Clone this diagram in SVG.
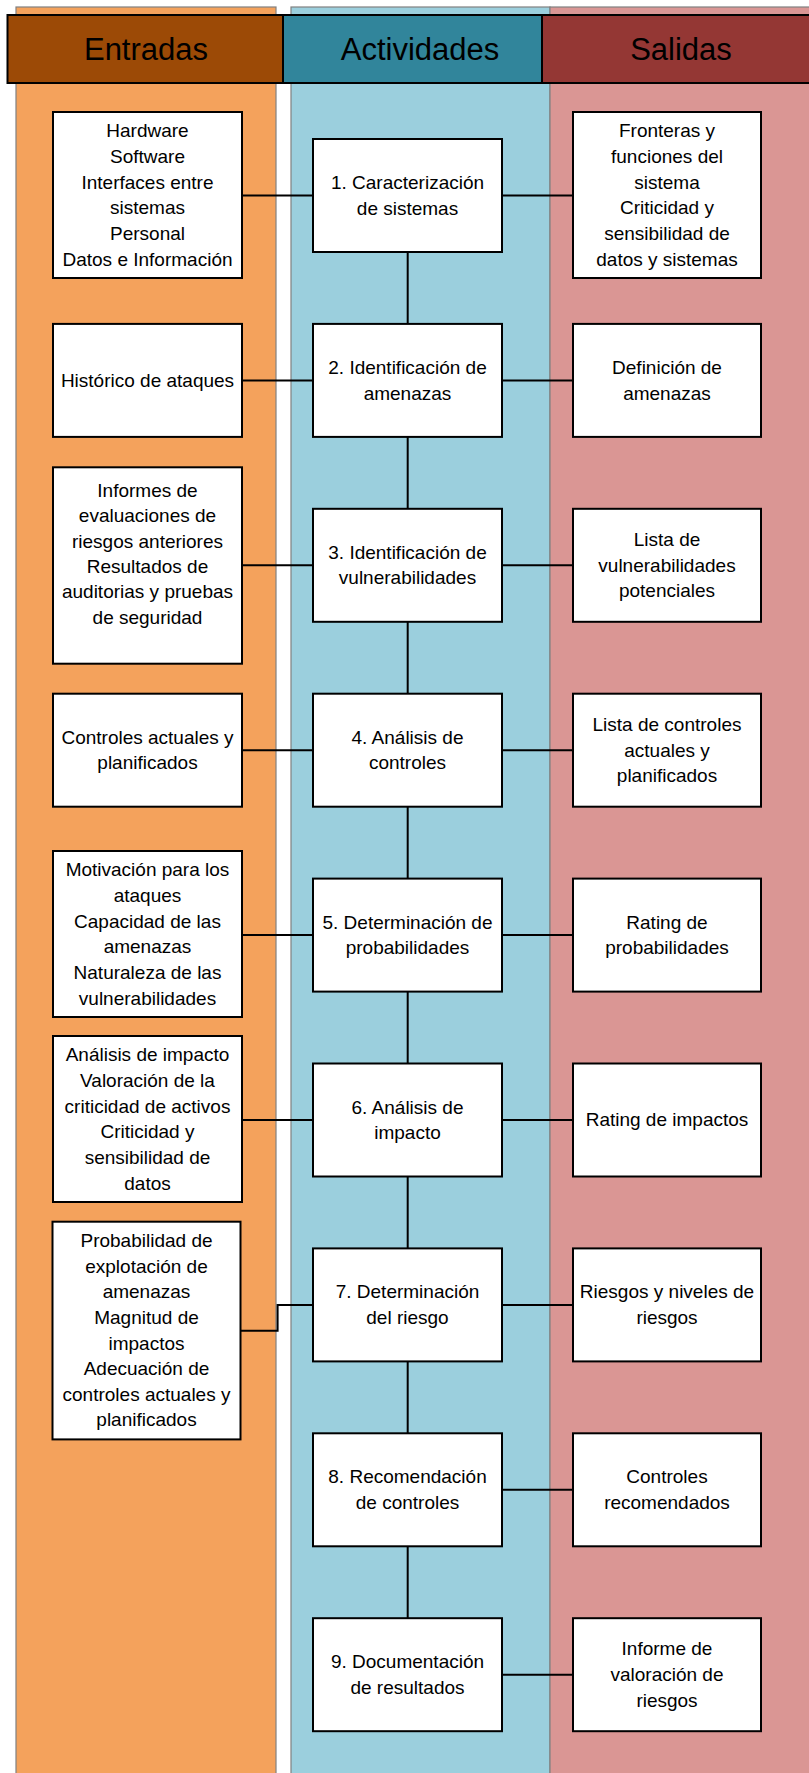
<svg xmlns="http://www.w3.org/2000/svg" width="809" height="1773" viewBox="0 0 809 1773">
<style>
.bg{stroke:#808080;stroke-width:1.2}
.hd{stroke:#000;stroke-width:2}
.ht{font-family:"Liberation Sans",Arial,sans-serif;font-size:31px;fill:#000;text-anchor:middle}
.box{fill:#fff;stroke:#000;stroke-width:2}
.t{font-family:"Liberation Sans",Arial,sans-serif;font-size:19px;fill:#000;text-anchor:middle}
.c{fill:none;stroke:#000;stroke-width:2}
</style>
<rect width="809" height="1773" fill="#fff"/>
<g id="columns">
<rect class="bg" x="16" y="7" width="260" height="1780" fill="#F4A25C"/>
<rect class="bg" x="291" y="7" width="259" height="1780" fill="#9BCFDD"/>
<rect class="bg" x="550" y="7" width="270" height="1780" fill="#DA9694"/>
</g>
<g id="headers">
<rect class="hd" x="7.5" y="15" width="275.5" height="68" fill="#9C4A06"/>
<rect class="hd" x="283" y="15" width="259" height="68" fill="#31859B"/>
<rect class="hd" x="542" y="15" width="275" height="68" fill="#943734"/>
<text class="ht" x="146" y="60">Entradas</text>
<text class="ht" x="420" y="60">Actividades</text>
<text class="ht" x="681" y="60">Salidas</text>
</g>
<g id="connectors">
<line class="c" x1="407.7" y1="252" x2="407.7" y2="1618"/>
<line class="c" x1="242" y1="195.5" x2="313" y2="195.5"/>
<line class="c" x1="502" y1="195.5" x2="573" y2="195.5"/>
<line class="c" x1="242" y1="380.4" x2="313" y2="380.4"/>
<line class="c" x1="502" y1="380.4" x2="573" y2="380.4"/>
<line class="c" x1="242" y1="565.3" x2="313" y2="565.3"/>
<line class="c" x1="502" y1="565.3" x2="573" y2="565.3"/>
<line class="c" x1="242" y1="750.2" x2="313" y2="750.2"/>
<line class="c" x1="502" y1="750.2" x2="573" y2="750.2"/>
<line class="c" x1="242" y1="935.1" x2="313" y2="935.1"/>
<line class="c" x1="502" y1="935.1" x2="573" y2="935.1"/>
<line class="c" x1="242" y1="1120" x2="313" y2="1120"/>
<line class="c" x1="502" y1="1120" x2="573" y2="1120"/>
<polyline class="c" points="313,1304.9 277.6,1304.9 277.6,1330.7 240.5,1330.7"/>
<line class="c" x1="502" y1="1304.9" x2="573" y2="1304.9"/>
<line class="c" x1="502" y1="1489.8" x2="573" y2="1489.8"/>
<line class="c" x1="502" y1="1674.7" x2="573" y2="1674.7"/>
</g>
<g id="in1"><rect class="box" x="53" y="112" width="189" height="166"/>
<text class="t" y="137.3"><tspan x="147.5">Hardware</tspan><tspan x="147.5" dy="25.7">Software</tspan><tspan x="147.5" dy="25.7">Interfaces entre</tspan><tspan x="147.5" dy="25.7">sistemas</tspan><tspan x="147.5" dy="25.7">Personal</tspan><tspan x="147.5" dy="25.7">Datos e Información</tspan></text></g>
<g id="in2"><rect class="box" x="53" y="323.9" width="189" height="113"/>
<text class="t" x="147.5" y="386.7">Histórico de ataques</text></g>
<g id="in3"><rect class="box" x="53" y="467.3" width="189" height="196.4"/>
<text class="t" y="496.7"><tspan x="147.5">Informes de</tspan><tspan x="147.5" dy="25.4">evaluaciones de</tspan><tspan x="147.5" dy="25.4">riesgos anteriores</tspan><tspan x="147.5" dy="25.4">Resultados de</tspan><tspan x="147.5" dy="25.4">auditorias y pruebas</tspan><tspan x="147.5" dy="25.4">de seguridad</tspan></text></g>
<g id="in4"><rect class="box" x="53" y="693.7" width="189" height="113"/>
<text class="t" y="743.7"><tspan x="147.5">Controles actuales y</tspan><tspan x="147.5" dy="25.6">planificados</tspan></text></g>
<g id="in5"><rect class="box" x="53" y="851" width="189" height="166"/>
<text class="t" y="876.3"><tspan x="147.5">Motivación para los</tspan><tspan x="147.5" dy="25.7">ataques</tspan><tspan x="147.5" dy="25.7">Capacidad de las</tspan><tspan x="147.5" dy="25.7">amenazas</tspan><tspan x="147.5" dy="25.7">Naturaleza de las</tspan><tspan x="147.5" dy="25.7">vulnerabilidades</tspan></text></g>
<g id="in6"><rect class="box" x="53" y="1036" width="189" height="166"/>
<text class="t" y="1061.3"><tspan x="147.5">Análisis de impacto</tspan><tspan x="147.5" dy="25.7">Valoración de la</tspan><tspan x="147.5" dy="25.7">criticidad de activos</tspan><tspan x="147.5" dy="25.7">Criticidad y</tspan><tspan x="147.5" dy="25.7">sensibilidad de</tspan><tspan x="147.5" dy="25.7">datos</tspan></text></g>
<g id="in7"><rect class="box" x="52.5" y="1221.7" width="188" height="217.7"/>
<text class="t" y="1247.2"><tspan x="146.5">Probabilidad de</tspan><tspan x="146.5" dy="25.6">explotación de</tspan><tspan x="146.5" dy="25.6">amenazas</tspan><tspan x="146.5" dy="25.6">Magnitud de</tspan><tspan x="146.5" dy="25.6">impactos</tspan><tspan x="146.5" dy="25.6">Adecuación de</tspan><tspan x="146.5" dy="25.6">controles actuales y</tspan><tspan x="146.5" dy="25.6">planificados</tspan></text></g>
<g id="act1"><rect class="box" x="313" y="139" width="189" height="113"/>
<text class="t" y="189"><tspan x="407.5">1. Caracterización</tspan><tspan x="407.5" dy="25.6">de sistemas</tspan></text></g>
<g id="act2"><rect class="box" x="313" y="323.9" width="189" height="113"/>
<text class="t" y="373.9"><tspan x="407.5">2. Identificación de</tspan><tspan x="407.5" dy="25.6">amenazas</tspan></text></g>
<g id="act3"><rect class="box" x="313" y="508.8" width="189" height="113"/>
<text class="t" y="558.8"><tspan x="407.5">3. Identificación de</tspan><tspan x="407.5" dy="25.6">vulnerabilidades</tspan></text></g>
<g id="act4"><rect class="box" x="313" y="693.7" width="189" height="113"/>
<text class="t" y="743.7"><tspan x="407.5">4. Análisis de</tspan><tspan x="407.5" dy="25.6">controles</tspan></text></g>
<g id="act5"><rect class="box" x="313" y="878.6" width="189" height="113"/>
<text class="t" y="928.6"><tspan x="407.5">5. Determinación de</tspan><tspan x="407.5" dy="25.6">probabilidades</tspan></text></g>
<g id="act6"><rect class="box" x="313" y="1063.5" width="189" height="113"/>
<text class="t" y="1113.5"><tspan x="407.5">6. Análisis de</tspan><tspan x="407.5" dy="25.6">impacto</tspan></text></g>
<g id="act7"><rect class="box" x="313" y="1248.4" width="189" height="113"/>
<text class="t" y="1298.4"><tspan x="407.5">7. Determinación</tspan><tspan x="407.5" dy="25.6">del riesgo</tspan></text></g>
<g id="act8"><rect class="box" x="313" y="1433.3" width="189" height="113"/>
<text class="t" y="1483.3"><tspan x="407.5">8. Recomendación</tspan><tspan x="407.5" dy="25.6">de controles</tspan></text></g>
<g id="act9"><rect class="box" x="313" y="1618.2" width="189" height="113"/>
<text class="t" y="1668.2"><tspan x="407.5">9. Documentación</tspan><tspan x="407.5" dy="25.6">de resultados</tspan></text></g>
<g id="out1"><rect class="box" x="573" y="112" width="188" height="166"/>
<text class="t" y="137.3"><tspan x="667">Fronteras y</tspan><tspan x="667" dy="25.7">funciones del</tspan><tspan x="667" dy="25.7">sistema</tspan><tspan x="667" dy="25.7">Criticidad y</tspan><tspan x="667" dy="25.7">sensibilidad de</tspan><tspan x="667" dy="25.7">datos y sistemas</tspan></text></g>
<g id="out2"><rect class="box" x="573" y="323.9" width="188" height="113"/>
<text class="t" y="373.9"><tspan x="667">Definición de</tspan><tspan x="667" dy="25.6">amenazas</tspan></text></g>
<g id="out3"><rect class="box" x="573" y="508.8" width="188" height="113"/>
<text class="t" y="546"><tspan x="667">Lista de</tspan><tspan x="667" dy="25.6">vulnerabilidades</tspan><tspan x="667" dy="25.6">potenciales</tspan></text></g>
<g id="out4"><rect class="box" x="573" y="693.7" width="188" height="113"/>
<text class="t" y="730.9"><tspan x="667">Lista de controles</tspan><tspan x="667" dy="25.6">actuales y</tspan><tspan x="667" dy="25.6">planificados</tspan></text></g>
<g id="out5"><rect class="box" x="573" y="878.6" width="188" height="113"/>
<text class="t" y="928.6"><tspan x="667">Rating de</tspan><tspan x="667" dy="25.6">probabilidades</tspan></text></g>
<g id="out6"><rect class="box" x="573" y="1063.5" width="188" height="113"/>
<text class="t" x="667" y="1126.3">Rating de impactos</text></g>
<g id="out7"><rect class="box" x="573" y="1248.4" width="188" height="113"/>
<text class="t" y="1298.4"><tspan x="667">Riesgos y niveles de</tspan><tspan x="667" dy="25.6">riesgos</tspan></text></g>
<g id="out8"><rect class="box" x="573" y="1433.3" width="188" height="113"/>
<text class="t" y="1483.3"><tspan x="667">Controles</tspan><tspan x="667" dy="25.6">recomendados</tspan></text></g>
<g id="out9"><rect class="box" x="573" y="1618.2" width="188" height="113"/>
<text class="t" y="1655.4"><tspan x="667">Informe de</tspan><tspan x="667" dy="25.6">valoración de</tspan><tspan x="667" dy="25.6">riesgos</tspan></text></g>
</svg>
